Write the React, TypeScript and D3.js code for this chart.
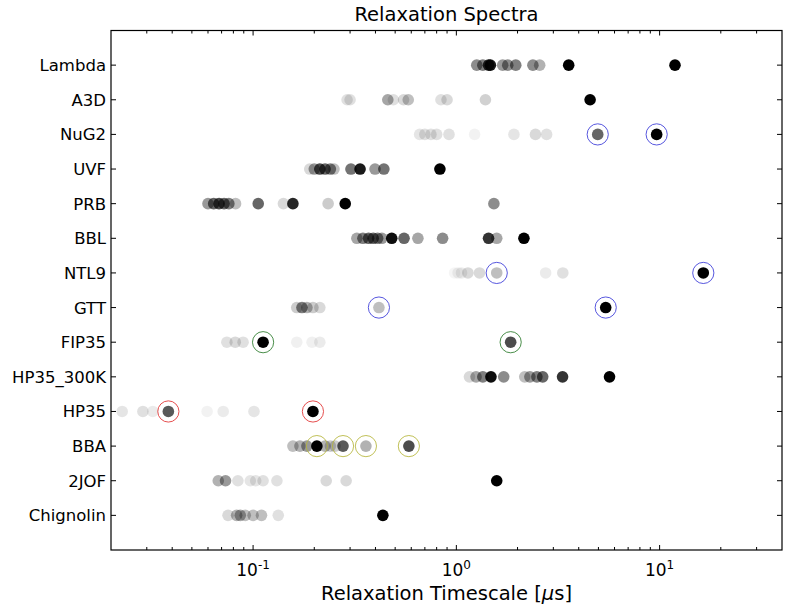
import React, { useEffect, useRef } from "react";
import * as d3 from "d3";

// rows, bottom to top
const proteins = ["Chignolin", "2JOF", "BBA", "HP35", "HP35_300K", "FIP35", "GTT", "NTL9", "BBL", "PRB", "UVF", "NuG2", "A3D", "Lambda"];

// [timescale in us, weight]
const chignolin = [[0.0753, 0.15], [0.083, 0.3], [0.0865, 0.35], [0.0915, 0.25], [0.1, 0.25], [0.11, 0.25], [0.133, 0.12], [0.435, 1]];
const jof = [[0.0674, 0.3], [0.0732, 0.4], [0.0842, 0.12], [0.0969, 0.1], [0.103, 0.1], [0.112, 0.12], [0.131, 0.12], [0.229, 0.15], [0.287, 0.15], [1.58, 1]];
const bba = [[0.157, 0.25], [0.17, 0.3], [0.184, 0.4], [0.206, 1], [0.226, 0.3], [0.24, 0.2], [0.253, 0.2], [0.277, 0.65], [0.359, 0.3], [0.584, 0.7]];
const hp35 = [[0.0227, 0.1], [0.0287, 0.12], [0.0321, 0.08], [0.0383, 0.65], [0.0594, 0.05], [0.0713, 0.08], [0.101, 0.1], [0.197, 1]];
const hp35_300k = [[1.16, 0.15], [1.25, 0.35], [1.35, 0.5], [1.48, 0.95], [1.71, 0.45], [2.17, 0.25], [2.3, 0.4], [2.49, 0.5], [2.66, 0.6], [3.33, 0.8], [5.67, 1]];
const fip35 = [[0.0743, 0.12], [0.0817, 0.15], [0.0893, 0.12], [0.112, 1], [0.164, 0.06], [0.195, 0.06], [0.213, 0.08], [1.85, 0.7]];
const gtt = [[0.164, 0.2], [0.174, 0.5], [0.184, 0.3], [0.197, 0.2], [0.213, 0.15], [0.416, 0.25], [5.43, 1]];
const ntl9 = [[0.98, 0.04], [1.02, 0.06], [1.06, 0.08], [1.14, 0.15], [1.3, 0.15], [1.58, 0.25], [2.75, 0.08], [3.34, 0.12], [16.4, 1]];
const bbl = [[0.324, 0.35], [0.347, 0.5], [0.37, 0.6], [0.39, 0.6], [0.41, 0.5], [0.43, 0.4], [0.481, 0.95], [0.553, 0.6], [0.647, 0.35], [0.856, 0.45], [1.44, 0.8], [1.58, 0.35], [2.15, 1]];
const prb = [[0.06, 0.4], [0.064, 0.6], [0.068, 0.7], [0.072, 0.6], [0.076, 0.5], [0.082, 0.25], [0.106, 0.6], [0.141, 0.15], [0.157, 0.85], [0.234, 0.2], [0.284, 1], [1.53, 0.45]];
const uvf = [[0.19, 0.15], [0.2, 0.4], [0.213, 0.7], [0.226, 0.6], [0.24, 0.5], [0.25, 0.25], [0.303, 0.55], [0.336, 0.9], [0.398, 0.4], [0.44, 0.55], [0.83, 1]];
const nug2 = [[0.66, 0.1], [0.7, 0.12], [0.75, 0.12], [0.8, 0.12], [0.92, 0.12], [1.23, 0.05], [1.92, 0.1], [2.45, 0.15], [2.78, 0.12], [4.96, 0.6], [9.67, 1]];
const a3d = [[0.29, 0.12], [0.3, 0.12], [0.46, 0.35], [0.49, 0.12], [0.55, 0.15], [0.58, 0.25], [0.84, 0.12], [0.9, 0.15], [1.39, 0.18], [4.55, 1]];
const lambda = [[1.26, 0.45], [1.35, 0.5], [1.44, 0.8], [1.47, 0.9], [1.69, 0.4], [1.79, 0.45], [1.96, 0.5], [2.38, 0.45], [2.57, 0.3], [3.57, 1], [11.9, 1]];

const spectra = [chignolin, jof, bba, hp35, hp35_300k, fip35, gtt, ntl9, bbl, prb, uvf, nug2, a3d, lambda];

// highlighted timescales: [row name, timescale, colour]
const circled: [string, number, string][] = [
  ["NuG2", 4.96, "#3a3ad8"], ["NuG2", 9.67, "#3a3ad8"],
  ["NTL9", 1.58, "#3a3ad8"], ["NTL9", 16.4, "#3a3ad8"],
  ["GTT", 0.416, "#3a3ad8"], ["GTT", 5.43, "#3a3ad8"],
  ["FIP35", 0.112, "#2a7a2a"], ["FIP35", 1.85, "#2a7a2a"],
  ["HP35", 0.0383, "#e03030"], ["HP35", 0.197, "#e03030"],
  ["BBA", 0.206, "#b5b53a"], ["BBA", 0.277, "#b5b53a"], ["BBA", 0.359, "#b5b53a"], ["BBA", 0.584, "#b5b53a"],
];

const xMajor = [0.1, 1, 10];
const xExp = ["-1", "0", "1"];

const App: React.FC = () => {
  const svgRef = useRef<SVGSVGElement | null>(null);

  useEffect(() => {
    if (!svgRef.current) return;
    const root = d3.select(svgRef.current);
    root.selectAll("*").remove();

    const left = 111, right = 782, top = 30.5, bottom = 550;
    const x = d3.scaleLog().domain([0.02, 40]).range([left, right]);
    const y = d3.scaleLinear().domain([-1, proteins.length]).range([bottom, top]);
    const font = "DejaVu Sans, sans-serif";

    const g = root.append("g");

    // points
    spectra.forEach((pts, i) => {
      g.selectAll(null)
        .data(pts)
        .enter()
        .append("circle")
        .attr("cx", (d: number[]) => x(d[0]))
        .attr("cy", y(i))
        .attr("r", 5.8)
        .style("fill", "#000")
        .style("opacity", (d: number[]) => d[1]);
    });

    // highlight rings
    g.selectAll(".ring")
      .data(circled)
      .enter()
      .append("circle")
      .attr("cx", (d) => x(d[1]))
      .attr("cy", (d) => y(proteins.indexOf(d[0])))
      .attr("r", 10.6)
      .style("fill", "none")
      .style("stroke", (d) => d[2])
      .style("stroke-width", 1)
      .style("stroke-opacity", 0.85);

    // frame
    g.append("rect")
      .attr("x", left).attr("y", top)
      .attr("width", right - left).attr("height", bottom - top)
      .style("fill", "none").style("stroke", "#000").style("stroke-width", 1.2);

    // x ticks (inward, top and bottom)
    const minor: number[] = [];
    [0.01, 0.1, 1, 10].forEach((dec) => {
      for (let k = 2; k <= 9; k++) {
        const v = dec * k;
        if (v > 0.02 && v < 40) minor.push(v);
      }
    });
    const tickLines = (vals: number[], len: number) => {
      vals.forEach((v) => {
        const px = x(v);
        g.append("line").attr("x1", px).attr("x2", px).attr("y1", bottom).attr("y2", bottom - len)
          .style("stroke", "#000").style("stroke-width", 1);
        g.append("line").attr("x1", px).attr("x2", px).attr("y1", top).attr("y2", top + len)
          .style("stroke", "#000").style("stroke-width", 1);
      });
    };
    tickLines(xMajor, 5);
    tickLines(minor, 3);

    // y ticks (inward, left and right)
    proteins.forEach((_, i) => {
      g.append("line").attr("x1", left).attr("x2", left + 5).attr("y1", y(i)).attr("y2", y(i))
        .style("stroke", "#000");
      g.append("line").attr("x1", right).attr("x2", right - 5).attr("y1", y(i)).attr("y2", y(i))
        .style("stroke", "#000");
    });

    // y labels
    g.selectAll(".ylab")
      .data(proteins)
      .enter()
      .append("text")
      .attr("x", left - 5)
      .attr("y", (_: any, i: number) => y(i))
      .attr("dy", "0.36em")
      .attr("text-anchor", "end")
      .style("font-family", font)
      .style("font-size", "16.5px")
      .text((d) => d);

    // x labels with exponent
    xMajor.forEach((v, i) => {
      const t = g.append("text")
        .attr("x", x(v))
        .attr("y", bottom + 26)
        .attr("text-anchor", "middle")
        .style("font-family", font)
        .style("font-size", "17px");
      t.append("tspan").text("10");
      t.append("tspan").attr("dy", -7).style("font-size", "12px").text(xExp[i]);
    });

    // axis title
    const xl = g.append("text")
      .attr("x", (left + right) / 2)
      .attr("y", 600)
      .attr("text-anchor", "middle")
      .style("font-family", font)
      .style("font-size", "19.5px");
    xl.append("tspan").text("Relaxation Timescale [");
    xl.append("tspan").style("font-style", "italic").text("\u03bc");
    xl.append("tspan").text("s]");

    g.append("text")
      .attr("x", (left + right) / 2)
      .attr("y", 21)
      .attr("text-anchor", "middle")
      .style("font-family", font)
      .style("font-size", "19.5px")
      .text("Relaxation Spectra");
  }, []);

  return (
    <svg
      ref={svgRef}
      width={789}
      height={607}
      style={{ position: "absolute", left: 0, top: 0, background: "#fff" }}
    ></svg>
  );
};

export default App;
